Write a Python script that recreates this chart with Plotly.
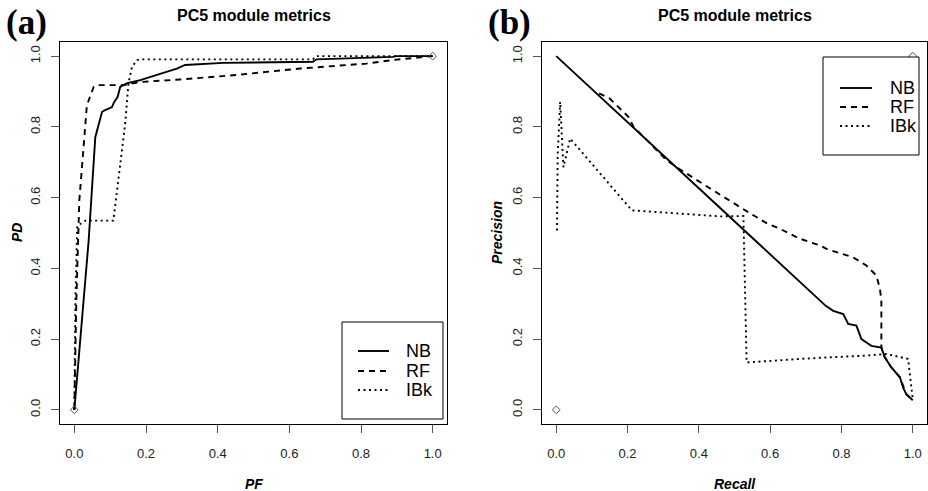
import plotly.graph_objects as go

W, H = 928, 491

# ---------------- data ----------------
# Panel (a): ROC curves (PF vs PD)
pf_nb = [0, 0.040, 0.0585, 0.0677, 0.0772, 0.0844, 0.105, 0.111, 0.121, 0.128, 0.148, 0.184,
         0.212, 0.240, 0.258, 0.286, 0.309, 0.415, 0.666, 0.676, 0.889, 0.899, 1.0]
pd_nb = [0, 0.479, 0.771, 0.805, 0.842, 0.847, 0.856, 0.870, 0.885, 0.913, 0.924, 0.932,
         0.941, 0.948, 0.956, 0.965, 0.975, 0.981, 0.984, 0.991, 0.998, 1.0, 1.0]

pf_rf = [0, 0.0056, 0.0139, 0.035, 0.054, 0.063, 0.136, 0.184, 0.295, 0.443, 0.630, 0.815, 0.889, 1.0]
pd_rf = [0, 0.309, 0.592, 0.861, 0.913, 0.918, 0.918, 0.927, 0.934, 0.946, 0.965, 0.979, 0.989, 1.0]

pf_ibk = [0, 0.003, 0.008, 0.031, 0.109, 0.119, 0.128, 0.142, 0.151, 0.161, 0.175, 0.192, 0.666, 0.674, 1.0]
pd_ibk = [0, 0.31, 0.52, 0.535, 0.535, 0.620, 0.697, 0.810, 0.923, 0.970, 0.989, 0.991, 0.991, 1.0, 1.0]

# Panel (b): Precision-Recall curves
rec_nb = [0, 0.756, 0.777, 0.805, 0.819, 0.842, 0.856, 0.884, 0.912, 0.922, 0.940, 0.964, 0.973, 0.982, 1.0]
prec_nb = [1.0, 0.294, 0.280, 0.271, 0.243, 0.238, 0.200, 0.181, 0.176, 0.148, 0.120, 0.092, 0.063, 0.044, 0.027]

rec_rf = [0.12, 0.15, 0.203, 0.217, 0.273, 0.31, 0.338, 0.366, 0.403, 0.441, 0.487, 0.543, 0.59, 0.627,
          0.683, 0.739, 0.758, 0.833, 0.870, 0.898, 0.908, 0.912, 0.912, 0.922, 0.940, 0.964, 0.982, 1.0]
prec_rf = [0.895, 0.88, 0.828, 0.80, 0.743, 0.705, 0.686, 0.667, 0.644, 0.62, 0.59, 0.556, 0.528, 0.512,
           0.484, 0.465, 0.455, 0.431, 0.408, 0.380, 0.342, 0.309, 0.176, 0.148, 0.12, 0.092, 0.044, 0.027]

rec_ibk = [0.002, 0.004, 0.011, 0.020, 0.039, 0.212, 0.459, 0.525, 0.534, 0.70, 0.861, 0.926, 0.987, 0.996, 1.0]
prec_ibk = [0.507, 0.72, 0.871, 0.686, 0.767, 0.564, 0.547, 0.548, 0.134, 0.145, 0.153, 0.158, 0.144, 0.054, 0.03]

end_x = [0, 1]
end_y = [0, 1]

tick_vals = [0, 0.2, 0.4, 0.6, 0.8, 1.0]
tick_text = ["0.0", "0.2", "0.4", "0.6", "0.8", "1.0"]
series_names = ["NB", "RF", "IBk"]
titles = ["PC5 module metrics", "PC5 module metrics"]
panel_tags = ["(a)", "(b)"]
x_titles = ["PF", "Recall"]
y_titles = ["PD", "Precision"]

# ---------------- styling ----------------
SANS = "Liberation Sans, Arial, sans-serif"
SERIF = "Liberation Serif, Times New Roman, serif"
DASHES = ["solid", "6px,5px", "2px,3.5px"]
LW = 1.9


def pxx(x):
    return x / W


def pxy(y):
    return 1 - y / H


fig = go.Figure()

panels = [
    ("x", "y", [(pf_nb, pd_nb), (pf_rf, pd_rf), (pf_ibk, pd_ibk)]),
    ("x2", "y2", [(rec_nb, prec_nb), (rec_rf, prec_rf), (rec_ibk, prec_ibk)]),
]
for xa, ya, series in panels:
    for (xs, ys), name, dash in zip(series, series_names, DASHES):
        fig.add_trace(go.Scatter(x=xs, y=ys, mode="lines", name=name, xaxis=xa, yaxis=ya,
                                 line=dict(color="black", width=LW, dash=dash),
                                 showlegend=False, hoverinfo="skip"))
    fig.add_trace(go.Scatter(x=end_x, y=end_y, mode="markers", xaxis=xa, yaxis=ya,
                             marker=dict(symbol="diamond-open", size=6, color="#555",
                                         line=dict(width=1, color="#555")),
                             showlegend=False, hoverinfo="skip"))

y_dom = [(H - 424) / H, (H - 42) / H]
x_doms = [[60 / W, 447 / W], [542 / W, 927 / W]]

axis_common = dict(range=[-0.04, 1.04], showgrid=False, zeroline=False, showline=True,
                   mirror=True, linecolor="black", linewidth=1, ticks="outside", ticklen=8,
                   tickcolor="#555", tickwidth=1, tickvals=tick_vals, ticktext=tick_text,
                   tickfont=dict(family=SANS, size=13, color="#222"))

fig.update_layout(
    width=W, height=H, autosize=False,
    margin=dict(l=0, r=0, t=0, b=0),
    paper_bgcolor="white", plot_bgcolor="white",
    showlegend=False,
    xaxis=dict(domain=x_doms[0], anchor="y", ticklabelstandoff=9, **axis_common),
    yaxis=dict(domain=y_dom, anchor="x", tickangle=-90, ticklabelstandoff=6, **axis_common),
    xaxis2=dict(domain=x_doms[1], anchor="y2", ticklabelstandoff=9, **axis_common),
    yaxis2=dict(domain=y_dom, anchor="x2", tickangle=-90, ticklabelstandoff=6, **axis_common),
)

annotations = []
shapes = []
centers = [(60 + 447) / 2, (542 + 927) / 2]
tag_x = [4, 486]
ytitle_x = [17, 497]
for i in range(2):
    annotations.append(dict(text="<b>%s</b>" % titles[i], x=pxx(centers[i]), y=pxy(16),
                            xref="paper", yref="paper", showarrow=False, xanchor="center",
                            yanchor="middle", font=dict(family=SANS, size=16, color="black")))
    annotations.append(dict(text="<b>%s</b>" % panel_tags[i], x=pxx(tag_x[i]), y=pxy(22),
                            xref="paper", yref="paper", showarrow=False, xanchor="left",
                            yanchor="middle", font=dict(family=SERIF, size=35, color="black")))
    annotations.append(dict(text="<b><i>%s</i></b>" % x_titles[i], x=pxx(centers[i]), y=pxy(484),
                            xref="paper", yref="paper", showarrow=False, xanchor="center",
                            yanchor="middle", font=dict(family=SANS, size=14, color="black")))
    annotations.append(dict(text="<b><i>%s</i></b>" % y_titles[i], x=pxx(ytitle_x[i]), y=pxy(233),
                            xref="paper", yref="paper", showarrow=False, xanchor="center",
                            yanchor="middle", textangle=-90,
                            font=dict(family=SANS, size=14, color="black")))

# legends (boxes with line samples)
legends = [
    dict(box=(342, 322, 443, 419), rows=[351, 371, 390], line=(358, 389), text=404),
    dict(box=(823, 57, 919, 155), rows=[88, 107, 126], line=(840, 872), text=888),
]
for lg in legends:
    x0, y0, x1, y1 = lg["box"]
    shapes.append(dict(type="rect", xref="paper", yref="paper", x0=pxx(x0), x1=pxx(x1),
                       y0=pxy(y1), y1=pxy(y0), line=dict(color="black", width=1),
                       fillcolor="white", layer="above"))
    for ry, name, dash in zip(lg["rows"], series_names, DASHES):
        shapes.append(dict(type="line", xref="paper", yref="paper", x0=pxx(lg["line"][0]),
                           x1=pxx(lg["line"][1]), y0=pxy(ry), y1=pxy(ry), layer="above",
                           line=dict(color="black", width=LW, dash=dash)))
        annotations.append(dict(text=name, x=pxx(lg["text"]), y=pxy(ry), xref="paper", yref="paper",
                                showarrow=False, xanchor="left", yanchor="middle",
                                font=dict(family=SANS, size=18, color="black")))

fig.update_layout(annotations=annotations, shapes=shapes)
fig.write_html("out.html", config={"displayModeBar": False, "staticPlot": True})

# remove the browser's default page margin so the figure sits at the window's corner
with open("out.html", "r", encoding="utf-8") as f:
    html = f.read()
html = html.replace("<head>", "<head><style>html,body{margin:0;padding:0;overflow:hidden;}</style>", 1)
with open("out.html", "w", encoding="utf-8") as f:
    f.write(html)
